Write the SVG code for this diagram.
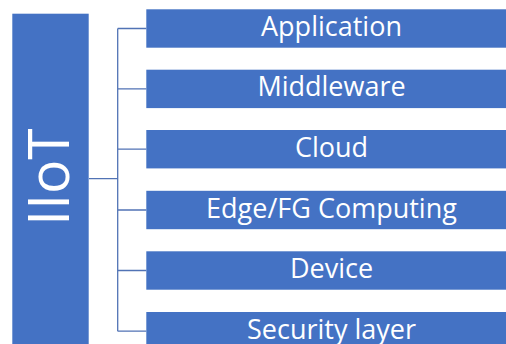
<svg xmlns="http://www.w3.org/2000/svg" width="506" height="344" viewBox="0 0 506 344">
<style>
.box{fill:#4472C4;}
.lbl{font-family:"Open Sans","Liberation Sans",sans-serif;font-size:27px;fill:#ffffff;text-anchor:middle;}
.conn{stroke:#5173B5;stroke-width:1.3;fill:none;}
</style>
<rect width="506" height="344" fill="#ffffff"/>
<g id="connectors">
<path class="conn" d="M89 178.7H117.7M117.7 28.5V331.2M117.7 28.5H146.3M117.7 88.9H146.3M117.7 149.2H146.3M117.7 210H146.3M117.7 270.5H146.3M117.7 331.2H146.3"/>
</g>
<g id="iiot">
<rect class="box" x="12.3" y="13.7" width="76.4" height="340"/>
<text class="lbl" style="font-size:57px" transform="translate(68.5,177) rotate(-90)">IIoT</text>
</g>
<g id="application">
<rect class="box" x="146.3" y="9.3" width="370" height="38.4"/>
<text class="lbl" x="331.5" y="36">Application</text>
</g>
<g id="middleware">
<rect class="box" x="146.3" y="69.7" width="370" height="38.4"/>
<text class="lbl" x="331.5" y="96.4">Middleware</text>
</g>
<g id="cloud">
<rect class="box" x="146.3" y="130" width="370" height="38.4"/>
<text class="lbl" x="331.5" y="156.7">Cloud</text>
</g>
<g id="edge">
<rect class="box" x="146.3" y="190.8" width="370" height="38.4"/>
<text class="lbl" x="331.5" y="217.5">Edge/FG Computing</text>
</g>
<g id="device">
<rect class="box" x="146.3" y="251.3" width="370" height="38.4"/>
<text class="lbl" x="331.5" y="278">Device</text>
</g>
<g id="security">
<rect class="box" x="146.3" y="312" width="370" height="38.4"/>
<text class="lbl" x="331.5" y="338.7">Security layer</text>
</g>
</svg>
